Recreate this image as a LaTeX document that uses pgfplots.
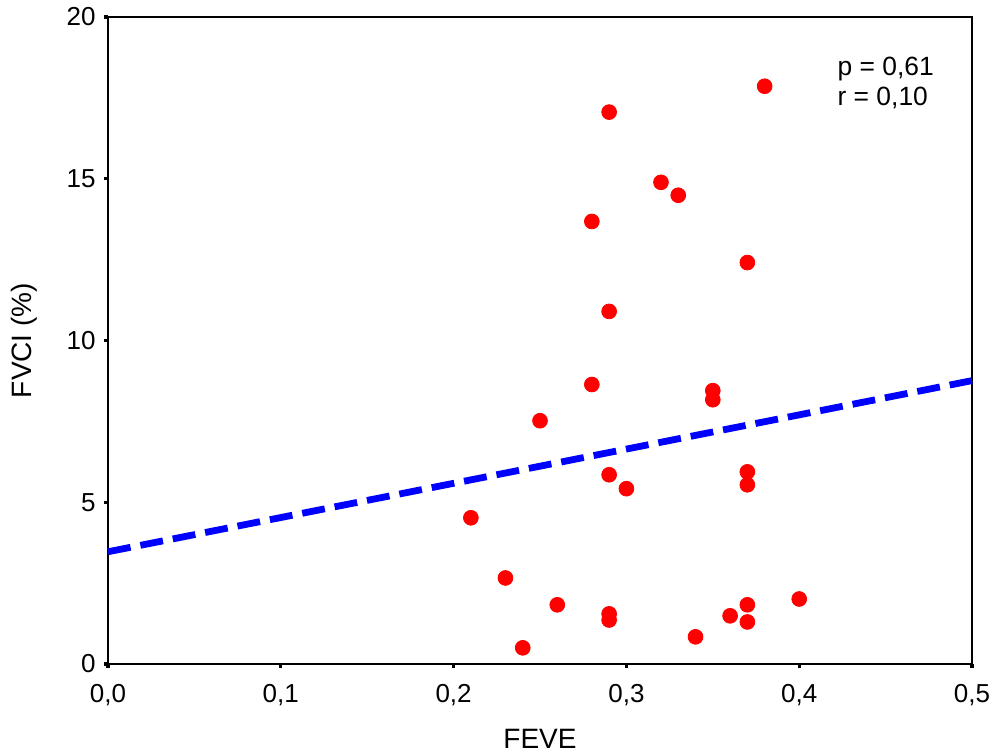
\documentclass[border=0pt]{standalone}
\usepackage{fontspec}
\setmainfont{Liberation Sans}
\usepackage{pgfplots}
\pgfplotsset{compat=1.18}
\begin{document}
\fontsize{12.5}{15}\selectfont
\begin{tikzpicture}
\begin{axis}[
  scale only axis,
  width=432pt, height=323.5pt,
  xmin=0, xmax=0.5, ymin=0, ymax=20,
  xtick={0,0.1,0.2,0.3,0.4,0.5},
  ytick={0,5,10,15,20},
  /pgf/number format/assume math mode=true,
  x tick label style={yshift=-4pt, /pgf/number format/.cd, use comma, fixed, fixed zerofill, precision=1},
  y tick label style={/pgf/number format/.cd, fixed, precision=0},
  tick align=outside,
  major tick length=1.8pt,
  every tick/.style={black, line width=1.6pt},
  xtick pos=left, ytick pos=left,
  axis line style={line width=1.3pt},
  xlabel={FEVE}, ylabel={FVCI (\%)},
  xlabel style={yshift=-3pt},
  ylabel style={yshift=6pt},
  tick label style={font=\fontsize{13}{15}\selectfont},
  label style={font=\fontsize{14}{16}\selectfont},
  clip=false,
]
\addplot[blue, line width=3.4pt, dash pattern=on 11.5pt off 5pt] coordinates {(0,3.47) (0.5,8.76)};
\addplot[only marks, mark=*, mark size=3.7pt, color=red, mark options={fill=red, draw=red}] coordinates {
(0.21,4.52) (0.23,2.66) (0.24,0.50) (0.25,7.52) (0.26,1.83)
(0.28,13.68) (0.28,8.64) (0.29,17.06) (0.29,10.90) (0.29,5.85)
(0.29,1.55) (0.29,1.36) (0.30,5.42) (0.32,14.89) (0.33,14.49)
(0.34,0.84) (0.35,8.45) (0.35,8.17) (0.36,1.49) (0.37,12.41)
(0.37,5.94) (0.37,5.54) (0.37,1.83) (0.37,1.30) (0.38,17.86)
(0.40,2.01)
};
\node[anchor=west, align=left, inner sep=0pt, font=\fontsize{13.2}{15.5}\selectfont] at (axis cs:0.422,17.95) {p = 0,61\\[-0.5pt] r = 0,10};
\end{axis}
\pgfresetboundingbox
\path ([xshift=-54pt,yshift=-43.5pt]current axis.south west) rectangle ([xshift=13pt,yshift=8.5pt]current axis.north east);
\end{tikzpicture}
\end{document}
